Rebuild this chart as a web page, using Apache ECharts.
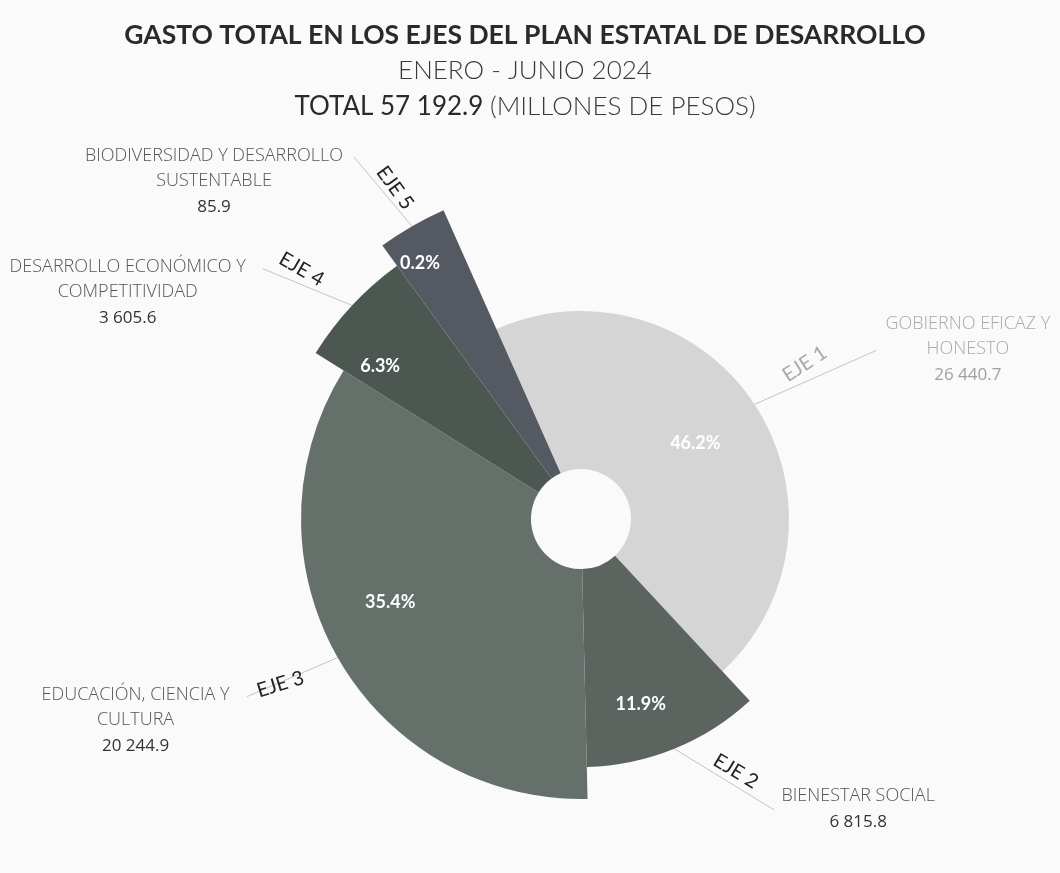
<!DOCTYPE html>
<html>
<head>
<meta charset="utf-8">
<title>Gasto total en los ejes del Plan Estatal de Desarrollo</title>
<script src="https://cdn.jsdelivr.net/npm/echarts@6/dist/echarts.min.js"></script>
<style>
html,body{margin:0;padding:0;background:#fafafa;}
#chart{width:1060px;height:873px;}
</style>
</head>
<body>
<div id="chart"></div>
<script>
// datos (millones de pesos, enero-junio 2024)
var ejes = ['EJE 1', 'EJE 2', 'EJE 3', 'EJE 4', 'EJE 5'];
var nombres = [
    ['GOBIERNO EFICAZ Y', 'HONESTO'],
    ['BIENESTAR SOCIAL'],
    ['EDUCACIÓN, CIENCIA Y', 'CULTURA'],
    ['DESARROLLO ECONÓMICO Y', 'COMPETITIVIDAD'],
    ['BIODIVERSIDAD Y DESARROLLO', 'SUSTENTABLE']
];
var gasto = [26440.7, 6815.8, 20244.9, 3605.6, 85.9];

// estilo de cada rebanada
var fuente = 'Lato';
var fuenteEtiqueta = 'Open Sans';
var centro = [581, 519];
var hueco = 50;
var radioExt = [208, 248, 280, 313, 338];
var radioPct = [134, 193, 205, 258, 303];
var ajustePct = [[0, 0], [-14, 4], [-10, -20], [-10, 25], [-8, 9]];
var radioEje = [271, 294, 343, 375, 377];
var giroEje = [33, -31, 17, -30, -54];
var ajusteEje = [[-5, -4], [43, -23], [0, -6], [-3, 8], [4, -2]]; // en pantalla
var colores = ['#d5d5d5', '#5c6460', '#66706b', '#4d5752', '#555a62'];
var colorTexto = ['#a9a9a9', '#555', '#555', '#555', '#555'];
var colorValor = ['#a0a0a0', '#333', '#333', '#333', '#333'];
var colorEje = ['#a9a9a9', '#222', '#222', '#222', '#222'];
var linea = [[98, 40], [66, 75], [79, 22], [54, 50], [80, 18]];
var ancho = [175, 160, 215, 262, 272];
var lineasVacias = [0, 0, 2, 2, 2];

var fmt = function (v) {
    var p = v.toFixed(1).split('.');
    return p[0].replace(/\B(?=(\d{3})+(?!\d))/g, ' ') + '.' + p[1];
};
var total = gasto.reduce(function (a, b) { return a + b; }, 0);

var pastel = function (i, radio, relleno) {
    return {
        type: 'pie',
        center: centro,
        radius: radio,
        startAngle: 114,
        minAngle: 12,
        percentPrecision: 1,
        avoidLabelOverlap: false,
        silent: true,
        animation: false,
        emphasis: {disabled: true},
        label: {show: false},
        labelLine: {show: false},
        labelLayout: {hideOverlap: false},
        data: ejes.map(function (e, j) {
            return {
                name: e,
                value: gasto[j],
                itemStyle: {color: (relleno && j === i) ? colores[i] : 'rgba(0,0,0,0)'},
                label: {show: j === i},
                labelLine: {show: j === i}
            };
        })
    };
};

var series = [];
for (var i = 0; i < ejes.length; i++) {
    // rebanada con su etiqueta exterior
    var s = pastel(i, [hueco, radioExt[i]], true);
    s.z = 2;
    (function (k) {
        s.label = {
            show: false,
            position: 'outside',
            distanceToLabelLine: 4,
            width: ancho[k],
            formatter: function () {
                var t = '';
                for (var b = 0; b < lineasVacias[k]; b++) t += '{n| }\n';
                t += nombres[k].map(function (n) { return '{n|' + n + '}'; }).join('\n');
                return t + '\n{v|' + fmt(gasto[k]) + '}';
            },
            rich: {
                n: {fontFamily: fuenteEtiqueta, fontSize: 18, fontWeight: 300, color: colorTexto[k], width: ancho[k], align: 'center', lineHeight: 25},
                v: {fontFamily: fuenteEtiqueta, fontSize: 17, color: colorValor[k], width: ancho[k], align: 'center', lineHeight: 28}
            }
        };
    })(i);
    s.labelLine = {show: false, length: linea[i][0], length2: linea[i][1], minTurnAngle: 180,
        lineStyle: {color: '#c4c4c4', width: 1}};
    series.push(s);

    // porcentaje
    var p = pastel(i, [radioPct[i] - 10, radioPct[i] + 10], false);
    p.z = 3;
    p.label = {show: false, position: 'inside', formatter: '{d}%', color: '#fff',
        fontFamily: fuente, fontSize: 18, fontWeight: 'bold'};
    p.labelLayout = {hideOverlap: false, dx: ajustePct[i][0], dy: ajustePct[i][1]};
    series.push(p);

    // nombre del eje (el desplazamiento se pasa al marco girado de la etiqueta)
    var e = pastel(i, [radioEje[i] - 10, radioEje[i] + 10], false);
    e.z = 3;
    e.label = {show: false, position: 'inside', formatter: '{b}', rotate: giroEje[i],
        color: colorEje[i], fontFamily: fuente, fontSize: 20};
    var th = -giroEje[i] * Math.PI / 180;
    var wx = ajusteEje[i][0], wy = ajusteEje[i][1];
    e.labelLayout = {hideOverlap: false, dx: wx * Math.cos(th) + wy * Math.sin(th), dy: -wx * Math.sin(th) + wy * Math.cos(th)};
    series.push(e);
}

var chart = echarts.init(document.getElementById('chart'));
chart.setOption({
    backgroundColor: '#fafafa',
    title: {
        left: 520,
        top: 12,
        textAlign: 'center',
        text: '{a|GASTO TOTAL EN LOS EJES DEL PLAN ESTATAL DE DESARROLLO}\n{b|ENERO - JUNIO 2024}\n{c|TOTAL ' + fmt(total) + ' }{d|(MILLONES DE PESOS)}',
        textStyle: {
            rich: {
                a: {fontFamily: fuente, fontSize: 26.5, fontWeight: 'bold', color: '#2a2a2a', lineHeight: 36},
                b: {fontFamily: fuente, fontSize: 26, fontWeight: 300, color: '#3a3a3a', lineHeight: 36},
                c: {fontFamily: fuente, fontSize: 26, fontWeight: 'normal', color: '#2a2a2a', lineHeight: 36},
                d: {fontFamily: fuente, fontSize: 26, fontWeight: 300, color: '#3a3a3a', lineHeight: 36}
            }
        }
    },
    series: series
});
</script>
</body>
</html>
